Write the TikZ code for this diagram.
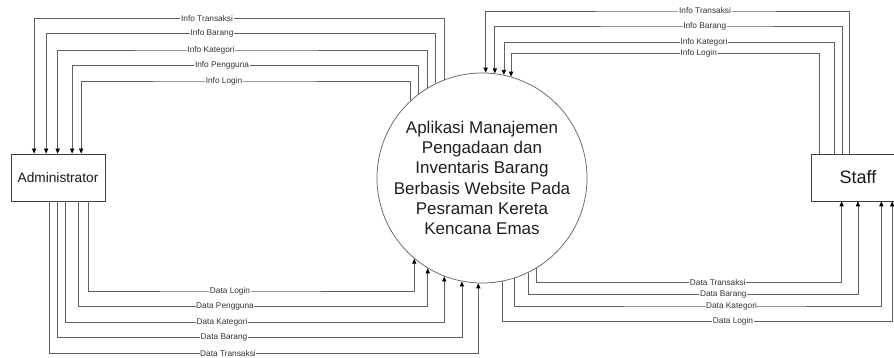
\documentclass[tikz,border=0pt]{standalone}
\usepackage{fontspec}
\setmainfont{Liberation Sans}
\usetikzlibrary{arrows.meta}
\begin{document}
\begin{tikzpicture}[x=1pt,y=-1pt,
  line/.style={draw=black!62, line width=0.75pt},
  flow/.style={line, -{Triangle[length=5pt,width=4.2pt,color=black]}},
  lbl/.style={fill=white, inner sep=0.6pt, text=black!80, font=\fontsize{8.3}{9}\selectfont},
  ent/.style={draw=black!75, line width=0.75pt, minimum width=94pt, minimum height=47pt, inner sep=0pt, text=black!90},
  proc/.style={circle, draw=black!60, line width=0.75pt, minimum size=194pt, inner sep=0pt, align=center, text=black!88, font=\fontsize{17}{20.3}\selectfont}
]
\useasboundingbox (0,0) rectangle (894,358);
\clip (0,0) rectangle (894,358);

% process and external entities
\node[proc] (c) at (482,178) {Aplikasi Manajemen\\Pengadaan dan\\Inventaris Barang\\Berbasis Website Pada\\Pesraman Kereta\\Kencana Emas};
\node[ent, font=\fontsize{13.7}{16}\selectfont] (adm) at (58,177.5) {Administrator};
\node[ent, font=\fontsize{18}{20}\selectfont] (stf) at (858,177.5) {Staff};

% system -> Administrator
\draw[flow] (c.111.3) |- (207,18.3) node[lbl] (i1) {Info Transaksi} -| ([xshift=23.5pt]adm.north west);
\draw[flow] (c.116.5) |- (212,33.7) node[lbl] (i2) {Info Barang} -| ([xshift=35.5pt]adm.north west);
\draw[flow] (c.121.7) |- (211,50) node[lbl] (i3) {Info Kategori} -| ([xshift=47pt]adm.north west);
\draw[flow] (c.127.2) |- (222,65.7) node[lbl] (i4) {Info Pengguna} -| ([xshift=61.5pt]adm.north west);
\draw[flow] (c.133.4) |- (224,81) node[lbl] (i5) {Info Login} -| ([xshift=70.5pt]adm.north west);

% Administrator -> system
\draw[flow] ([xshift=78pt]adm.south west) |- (230,291) node[lbl] (d1) {Data Login} -| (c.-130.3);
\draw[flow] ([xshift=68pt]adm.south west) |- (225,306.7) node[lbl] (d2) {Data Pengguna} -| (c.-121.5);
\draw[flow] ([xshift=54.7pt]adm.south west) |- (222,322.3) node[lbl] (d3) {Data Kategori} -| (c.-111.8);
\draw[flow] ([xshift=46.7pt]adm.south west) |- (224,337.7) node[lbl] (d4) {Data Barang} -| (c.-101.7);
\draw[flow] ([xshift=39pt]adm.south west) |- (228,353.3) node[lbl] (d5) {Data Transaksi} -| (c.-92.8);

% Staff -> system
\draw[flow] ([xshift=39pt]stf.north west) |- (705,11) node[lbl] (s1) {Info Transaksi} -| (c.88.2);
\draw[flow] ([xshift=31.7pt]stf.north west) |- (704.7,26) node[lbl] (s2) {Info Barang} -| (c.83.7);
\draw[flow] ([xshift=23.7pt]stf.north west) |- (704,42.3) node[lbl] (s3) {Info Kategori} -| (c.78.9);
\draw[flow] ([xshift=8.3pt]stf.north west) |- (698.7,53.3) node[lbl] (s4) {Info Login} -| (c.74.3);

% system -> Staff
\draw[flow] (c.-59.7) |- (717.7,282.7) node[lbl] (t1) {Data Transaksi} -| ([xshift=31pt]stf.south west);
\draw[flow] (c.-64.8) |- (723.3,294.3) node[lbl] (t2) {Data Barang} -| ([xshift=47.3pt]stf.south west);
\draw[flow] (c.-72.6) |- (731.5,306) node[lbl] (t3) {Data Kategori} -| ([xshift=70.7pt]stf.south west);
\draw[flow] (c.-79.3) |- (733,321.7) node[lbl] (t4) {Data Login} -| ([xshift=81.5pt]stf.south west);
\end{tikzpicture}
\end{document}
